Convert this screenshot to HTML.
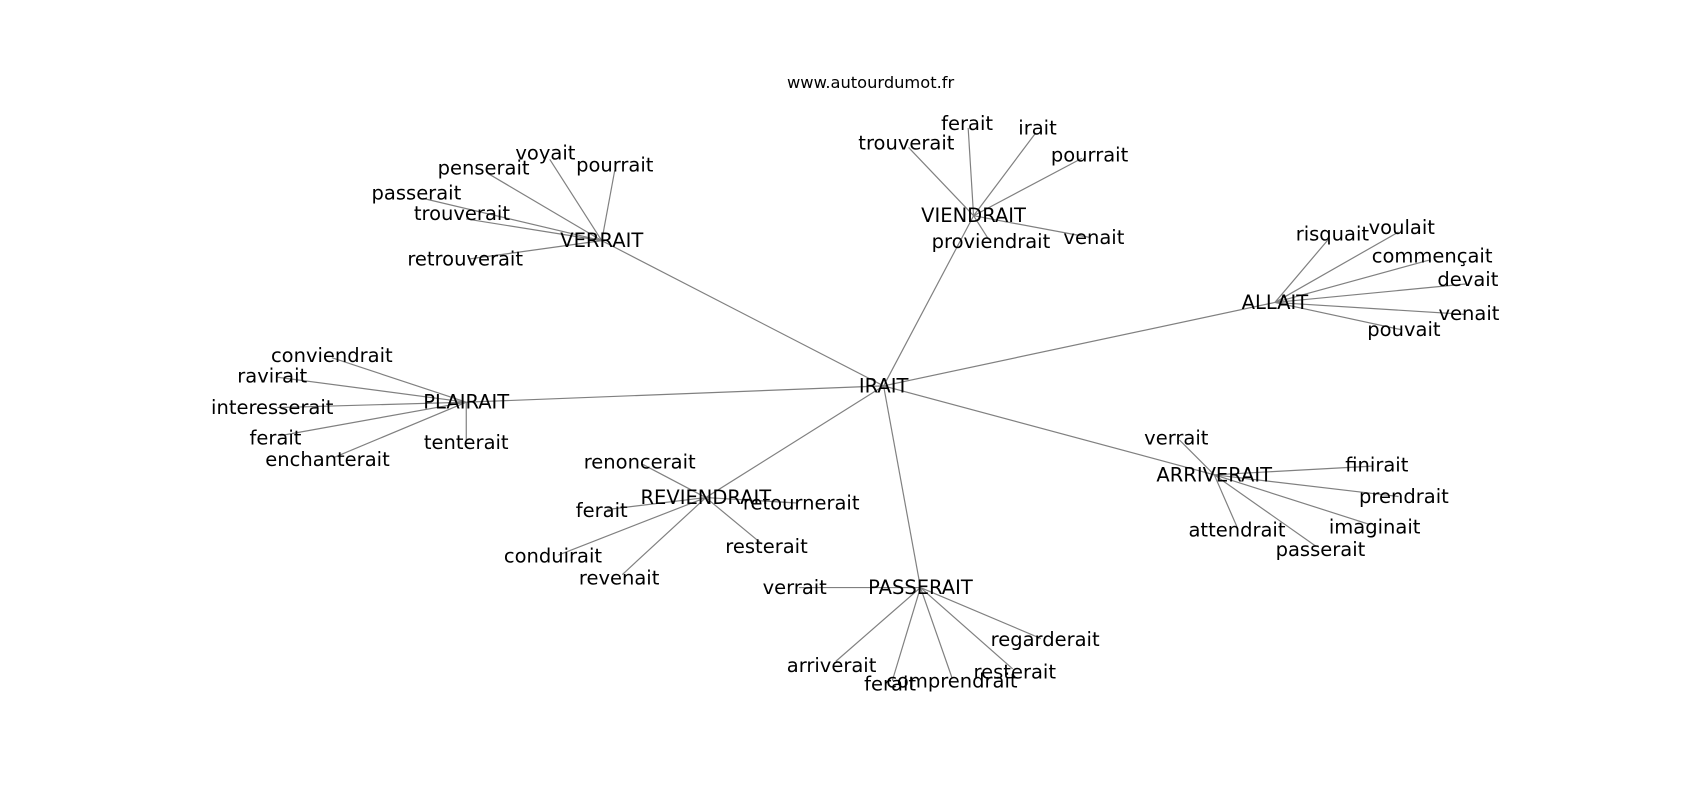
<!DOCTYPE html>
<html><head><meta charset="utf-8"><style>
html,body{margin:0;padding:0;background:#fff;}
svg{display:block;}
text{font-family:"DejaVu Sans","Liberation Sans",sans-serif;font-size:18px;fill:#000;text-anchor:middle;dominant-baseline:central;}
line{stroke:#808080;stroke-width:1.1;}
</style></head><body>
<svg width="1700" height="800" viewBox="0 0 1568 738" xmlns="http://www.w3.org/2000/svg">
<text x="803" y="76" style="font-size:15px">www.autourdumot.fr</text>
<g>
<line x1="815" y1="356" x2="555" y2="222"/>
<line x1="815" y1="356" x2="898" y2="199"/>
<line x1="815" y1="356" x2="1176" y2="279"/>
<line x1="815" y1="356" x2="430" y2="371"/>
<line x1="815" y1="356" x2="651" y2="459"/>
<line x1="815" y1="356" x2="849" y2="542"/>
<line x1="815" y1="356" x2="1120" y2="438"/>

<line x1="555" y1="222" x2="507" y2="147"/>
<line x1="555" y1="222" x2="567" y2="157"/>
<line x1="555" y1="222" x2="450" y2="160"/>
<line x1="555" y1="222" x2="390" y2="183"/>
<line x1="555" y1="222" x2="430" y2="202"/>
<line x1="555" y1="222" x2="432" y2="239"/>

<line x1="898" y1="199" x2="893" y2="118"/>
<line x1="898" y1="199" x2="955" y2="123"/>
<line x1="898" y1="199" x2="838" y2="136"/>
<line x1="898" y1="199" x2="998" y2="146"/>
<line x1="898" y1="199" x2="1005" y2="219"/>
<line x1="898" y1="199" x2="912" y2="221"/>

<line x1="1176" y1="279" x2="1226" y2="220"/>
<line x1="1176" y1="279" x2="1290" y2="214"/>
<line x1="1176" y1="279" x2="1318" y2="240"/>
<line x1="1176" y1="279" x2="1352" y2="262"/>
<line x1="1176" y1="279" x2="1352" y2="290"/>
<line x1="1176" y1="279" x2="1292" y2="304"/>

<line x1="430" y1="371" x2="306" y2="330"/>
<line x1="430" y1="371" x2="256" y2="348"/>
<line x1="430" y1="371" x2="256" y2="376"/>
<line x1="430" y1="371" x2="258" y2="402"/>
<line x1="430" y1="371" x2="308" y2="422"/>
<line x1="430" y1="371" x2="430" y2="406"/>

<line x1="651" y1="459" x2="592" y2="428"/>
<line x1="651" y1="459" x2="560" y2="470"/>
<line x1="651" y1="459" x2="735" y2="464"/>
<line x1="651" y1="459" x2="703" y2="502"/>
<line x1="651" y1="459" x2="515" y2="512"/>
<line x1="651" y1="459" x2="574" y2="530"/>

<line x1="849" y1="542" x2="737" y2="542"/>
<line x1="849" y1="542" x2="771" y2="610"/>
<line x1="849" y1="542" x2="823" y2="628"/>
<line x1="849" y1="542" x2="878" y2="625"/>
<line x1="849" y1="542" x2="934" y2="617"/>
<line x1="849" y1="542" x2="960" y2="589"/>

<line x1="1120" y1="438" x2="1088" y2="406"/>
<line x1="1120" y1="438" x2="1266" y2="430"/>
<line x1="1120" y1="438" x2="1290" y2="458"/>
<line x1="1120" y1="438" x2="1264" y2="484"/>
<line x1="1120" y1="438" x2="1141" y2="486"/>
<line x1="1120" y1="438" x2="1214" y2="504"/>
</g>
<g>
<text x="815" y="356">IRAIT</text>
<text x="555" y="222">VERRAIT</text>
<text x="898" y="199">VIENDRAIT</text>
<text x="1176" y="279">ALLAIT</text>
<text x="430" y="371">PLAIRAIT</text>
<text x="651" y="459">REVIENDRAIT</text>
<text x="849" y="542">PASSERAIT</text>
<text x="1120" y="438">ARRIVERAIT</text>

<text x="503" y="141">voyait</text>
<text x="567" y="152">pourrait</text>
<text x="446" y="155">penserait</text>
<text x="384" y="178">passerait</text>
<text x="426" y="197">trouverait</text>
<text x="429" y="239">retrouverait</text>

<text x="892" y="114">ferait</text>
<text x="957" y="118">irait</text>
<text x="836" y="132">trouverait</text>
<text x="1005" y="143">pourrait</text>
<text x="1009" y="219">venait</text>
<text x="914" y="223">proviendrait</text>

<text x="1229" y="216">risquait</text>
<text x="1293" y="210">voulait</text>
<text x="1321" y="236">commençait</text>
<text x="1354" y="258">devait</text>
<text x="1355" y="289">venait</text>
<text x="1295" y="304">pouvait</text>

<text x="306" y="328">conviendrait</text>
<text x="251" y="347">ravirait</text>
<text x="251" y="376">interesserait</text>
<text x="254" y="404">ferait</text>
<text x="302" y="424">enchanterait</text>
<text x="430" y="408">tenterait</text>

<text x="590" y="426">renoncerait</text>
<text x="555" y="471">ferait</text>
<text x="739" y="464">retournerait</text>
<text x="707" y="504">resterait</text>
<text x="510" y="513">conduirait</text>
<text x="571" y="533">revenait</text>

<text x="733" y="542">verrait</text>
<text x="767" y="614">arriverait</text>
<text x="821" y="631">ferait</text>
<text x="878" y="628">comprendrait</text>
<text x="936" y="620">resterait</text>
<text x="964" y="590">regarderait</text>

<text x="1085" y="404">verrait</text>
<text x="1270" y="429">finirait</text>
<text x="1295" y="458">prendrait</text>
<text x="1268" y="486">imaginait</text>
<text x="1141" y="489">attendrait</text>
<text x="1218" y="507">passerait</text>
</g>
</svg>
</body></html>
